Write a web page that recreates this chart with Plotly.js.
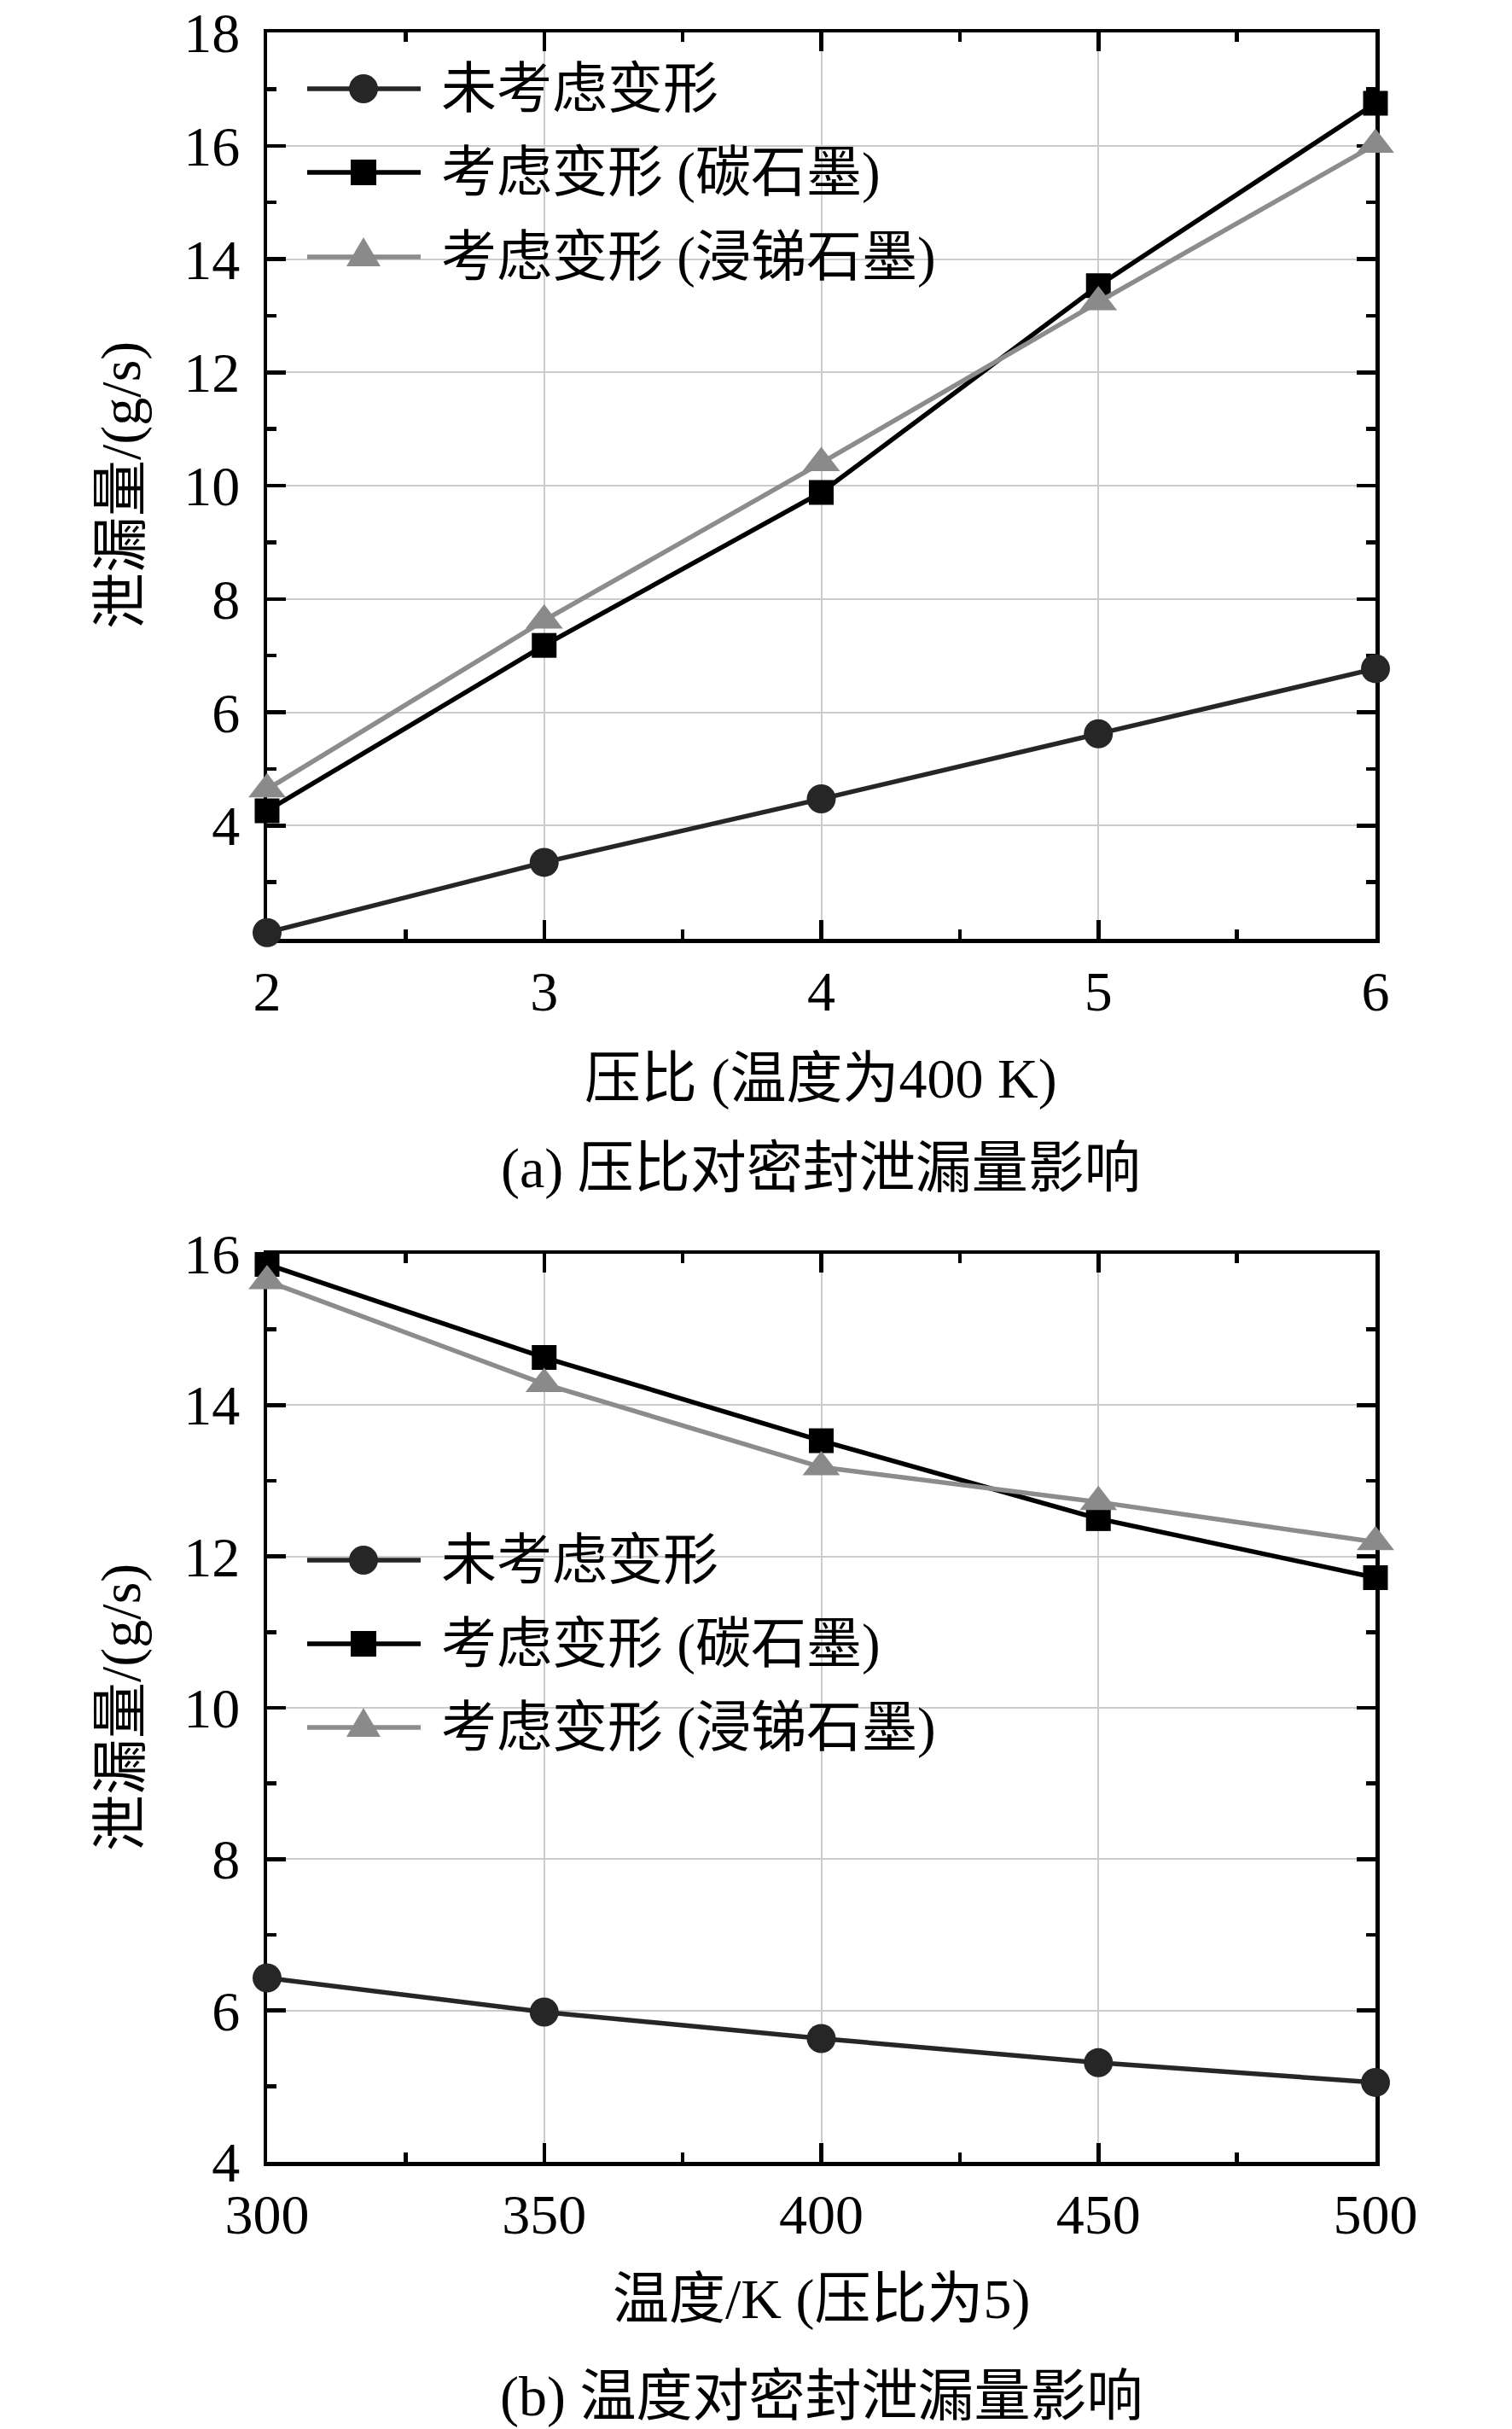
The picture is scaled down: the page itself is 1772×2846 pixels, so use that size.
<!DOCTYPE html>
<html>
<head>
<meta charset="utf-8">
<script src="https://cdn.plot.ly/plotly-3.0.1.min.js"></script>
<style>
  html, body { margin: 0; padding: 0; background: #fff; }
  #plot { width: 1772px; height: 2846px; }
</style>
</head>
<body>
<div id="plot"></div>
<script>
// (a) pressure ratio at 400 K
const pressureRatio = [2, 3, 4, 5, 6];
const aNoDeform = [2.11, 3.35, 4.47, 5.62, 6.77];
const aCarbon = [4.26, 7.18, 9.88, 13.53, 16.75];
const aAntimony = [4.64, 7.62, 10.40, 13.24, 16.02];

// (b) temperature at pressure ratio 5
const temperature = [300, 350, 400, 450, 500];
const bNoDeform = [6.43, 5.98, 5.63, 5.31, 5.05];
const bCarbon = [15.86, 14.63, 13.53, 12.50, 11.72];
const bAntimony = [15.64, 14.28, 13.18, 12.72, 12.19];

const seriesNames = ['未考虑变形', '考虑变形 (碳石墨)', '考虑变形 (浸锑石墨)'];

const aYTicks = [4, 6, 8, 10, 12, 14, 16, 18];
const bYTicks = [4, 6, 8, 10, 12, 14, 16];

const W = 1772, H = 2846;
const FONT = 'Liberation Serif, "Noto Sans CJK SC", serif';

const styles = [
    { line: '#262626', marker: '#262626', symbol: 'circle', size: 34 },
    { line: '#000000', marker: '#000000', symbol: 'square', size: 29 },
    { line: '#8c8c8c', marker: '#8a8a8a', symbol: 'triangle-up', size: 38 }
];

function makeTrace(x, y, i, xa, ya) {
    const s = styles[i];
    return {
        x, y,
        xaxis: xa, yaxis: ya,
        name: seriesNames[i],
        mode: 'lines+markers',
        type: 'scatter',
        cliponaxis: false,
        showlegend: false,
        line: { color: s.line, width: 5.5 },
        marker: { color: s.marker, symbol: s.symbol, size: s.size, line: { width: 0 } }
    };
}

const traces = [
    makeTrace(pressureRatio, aNoDeform, 0, 'x', 'y'),
    makeTrace(pressureRatio, aCarbon, 1, 'x', 'y'),
    makeTrace(pressureRatio, aAntimony, 2, 'x', 'y'),
    makeTrace(temperature, bNoDeform, 0, 'x2', 'y2'),
    makeTrace(temperature, bCarbon, 1, 'x2', 'y2'),
    makeTrace(temperature, bAntimony, 2, 'x2', 'y2')
];

function px(v) { return v / W; }
function py(v) { return 1 - v / H; }

function axisBase() {
    return {
        showline: true,
        linecolor: '#000',
        linewidth: 4.5,
        mirror: 'ticks',
        ticks: 'inside',
        ticklen: 22,
        tickwidth: 4.5,
        tickcolor: '#000',
        showgrid: true,
        gridcolor: '#cccccc',
        gridwidth: 2,
        zeroline: false,
        layer: 'below traces',
        ticklabeloverflow: 'allow',
        tickfont: { family: FONT, size: 66, color: '#000' }
    };
}

function minorTicks(dtick, tick0) {
    return { ticks: 'inside', ticklen: 11, tickwidth: 4.5, tickcolor: '#000', dtick, tick0, showgrid: false };
}

const xDomain = [px(313), px(1612)];

const xaxis = Object.assign(axisBase(), {
    domain: xDomain, anchor: 'y', range: [2, 6],
    tickmode: 'linear', tick0: 2, dtick: 1,
    ticklabelstandoff: 0,
    minor: minorTicks(0.5, 2)
});
const yaxis = Object.assign(axisBase(), {
    domain: [py(1100), py(38)], anchor: 'x', range: [2, 18.0005],
    tickmode: 'array', tickvals: aYTicks,
    ticklabelstandoff: 14,
    minor: minorTicks(1, 2)
});
const xaxis2 = Object.assign(axisBase(), {
    domain: xDomain, anchor: 'y2', range: [300, 500],
    tickmode: 'linear', tick0: 300, dtick: 50,
    ticklabelstandoff: 0,
    minor: minorTicks(25, 300)
});
const yaxis2 = Object.assign(axisBase(), {
    domain: [py(2533), py(1469)], anchor: 'x2', range: [4, 16.0005],
    tickmode: 'array', tickvals: bYTicks,
    ticklabelstandoff: 14,
    minor: minorTicks(1, 4)
});

// hand-drawn legend (Plotly caps legend marker size)
const shapes = [];
const annotations = [];

function addLegend(boxTop, boxBottom, rows) {
    shapes.push({
        type: 'rect', xref: 'paper', yref: 'paper', layer: 'between',
        x0: px(338), x1: px(1121), y0: py(boxBottom), y1: py(boxTop),
        fillcolor: '#ffffff', line: { width: 0 }
    });
    rows.forEach((ry, i) => {
        const s = styles[i];
        shapes.push({
            type: 'line', xref: 'paper', yref: 'paper', layer: 'above',
            x0: px(360), x1: px(493), y0: py(ry), y1: py(ry),
            line: { color: s.line, width: 5.5 }
        });
        const base = {
            xref: 'paper', yref: 'paper', layer: 'above',
            xsizemode: 'pixel', ysizemode: 'pixel',
            xanchor: px(426), yanchor: py(ry),
            fillcolor: s.marker, line: { width: 0 }
        };
        if (s.symbol === 'circle') {
            shapes.push(Object.assign({ type: 'circle', x0: -17, x1: 17, y0: -17, y1: 17 }, base));
        } else if (s.symbol === 'square') {
            shapes.push(Object.assign({ type: 'rect', x0: -15, x1: 15, y0: -15, y1: 15 }, base));
        } else {
            shapes.push(Object.assign({ type: 'path', path: 'M-20,-11 L20,-11 L0,23 Z' }, base));
        }
        annotations.push({
            xref: 'paper', yref: 'paper', x: px(515), y: py(ry),
            xanchor: 'left', yanchor: 'middle', showarrow: false,
            text: seriesNames[i],
            font: { family: FONT, size: 65, color: '#000' }
        });
    });
}

addLegend(62, 346, [104, 202, 301]);
addLegend(1783, 2068, [1828, 1926, 2024]);

function addText(text, x, y, angle) {
    annotations.push({
        xref: 'paper', yref: 'paper', x: px(x), y: py(y),
        xanchor: 'center', yanchor: 'middle', showarrow: false,
        text, textangle: angle || 0,
        font: { family: FONT, size: 66, color: '#000' }
    });
}

addText('压比 (温度为400 K)', 962, 1264);
addText('(a) 压比对密封泄漏量影响', 962, 1369);
addText('泄漏量/(g/s)', 142, 569, -90);
addText('温度/K (压比为5)', 962, 2694);
addText('(b) 温度对密封泄漏量影响', 962, 2808);
addText('泄漏量/(g/s)', 142, 2001, -90);

const layout = {
    width: W,
    height: H,
    margin: { l: 0, r: 0, t: 0, b: 0 },
    paper_bgcolor: '#ffffff',
    plot_bgcolor: '#ffffff',
    showlegend: false,
    xaxis, yaxis, xaxis2, yaxis2,
    shapes,
    annotations
};

Plotly.newPlot('plot', traces, layout, { staticPlot: true });
</script>
</body>
</html>
